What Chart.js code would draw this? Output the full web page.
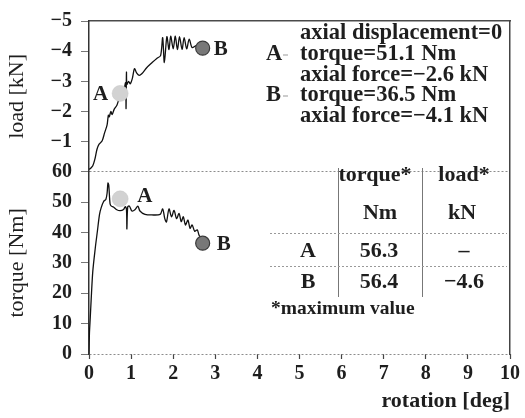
<!DOCTYPE html>
<html>
<head>
<meta charset="utf-8">
<script src="https://cdn.jsdelivr.net/npm/chart.js@4/dist/chart.umd.min.js"></script>
<style>
  html, body { margin: 0; padding: 0; background: #fff; }
  canvas { display: block; }
</style>
</head>
<body>
<canvas id="torsionChart" width="525" height="418"></canvas>
<script>
// Axial load [kN] against rotation [deg]
const loadRotation = [0, 0.04, 0.09, 0.14, 0.19, 0.24, 0.31, 0.37, 0.43, 0.46, 0.48, 0.52, 0.55, 0.60, 0.66, 0.72,
  0.78, 0.84, 0.87, 0.88, 0.89, 0.90, 0.94, 0.98, 1.03, 1.08, 1.13, 1.19, 1.26, 1.37, 1.49, 1.61, 1.70, 1.75,
  1.79, 1.85, 1.90, 1.94, 2.00, 2.05, 2.10, 2.15, 2.21, 2.26, 2.32, 2.38, 2.45, 2.55, 2.70];
const loadValues = [-0.08, -0.12, -0.2, -0.42, -0.75, -0.92, -1.02, -1.29, -1.56, -1.88, -1.82, -2.0, -1.9, -2.08, -2.2, -2.45,
  -2.62, -2.8, -2.95, -2.1, -3.3, -2.9, -3.0, -2.92, -3.1, -3.42, -3.28, -3.2, -3.26, -3.45, -3.61, -3.76, -3.85, -4.45,
  -3.62, -4.48, -4.05, -4.5, -4.08, -4.5, -4.05, -4.48, -4.06, -4.45, -4.08, -4.4, -4.12, -4.18, -4.1];

// Torque [Nm] against rotation [deg]
const torqueRotation = [0, 0.01, 0.03, 0.05, 0.09, 0.15, 0.20, 0.25, 0.29, 0.35, 0.40, 0.43, 0.45, 0.47, 0.50, 0.53,
  0.58, 0.66, 0.74, 0.82, 0.86, 0.89, 0.90, 0.92, 0.96, 1.02, 1.09, 1.16, 1.21, 1.33, 1.49, 1.69, 1.75, 1.80,
  1.84, 1.90, 1.96, 2.02, 2.08, 2.14, 2.19, 2.24, 2.29, 2.35, 2.40, 2.45, 2.51, 2.57, 2.61, 2.65, 2.70];
const torqueValues = [0, 6.7, 12, 17.5, 27.2, 35, 40.5, 46, 48.2, 50.3, 50.9, 53, 56.3, 55.5, 49.5, 48.7,
  48.4, 47.5, 47.2, 47.6, 48.5, 47.5, 41.2, 48.5, 48.7, 47.1, 47.5, 48.7, 47.1, 46, 45.8, 46, 47.8, 44.6,
  43.5, 47.8, 45.2, 47.3, 44.6, 46.3, 43.6, 45.2, 42.5, 44.1, 41.4, 42.5, 40.4, 40.9, 39.3, 38.2, 36.5];

// Marked states
const markNames = ['A', 'B'];
const markRotation = [0.74, 2.70];
const markTorque = [51.1, 36.5];
const markLoad = [-2.6, -4.1];

// Maximum value table
const tableRows = ['A', 'B'];
const maxTorque = ['56.3', '56.4'];
const maxLoad = ['\u2013', '\u22124.6'];

// Axis ticks
const rotationTicks = [0, 1, 2, 3, 4, 5, 6, 7, 8, 9, 10];
const loadTicks = [-5, -4, -3, -2, -1];
const torqueTicks = [0, 10, 20, 30, 40, 50, 60];

const serif = '"Liberation Serif", "Times New Roman", serif';
const ink = '#1e1e1e';

function points(xs, ys) {
  return xs.map((x, i) => ({ x: x, y: ys[i] }));
}

// One dataset per marker so each gets its own style and tag
function markerDataset(i, axisId, values, tagDx, tagDy) {
  const light = i === 0;
  return {
    data: [{ x: markRotation[i], y: values[i] }],
    yAxisID: axisId,
    showLine: false,
    pointRadius: light ? 8 : 7,
    pointBackgroundColor: light ? '#d2d2d2' : '#787878',
    pointBorderColor: light ? '#c4c4c4' : '#3a3a3a',
    pointBorderWidth: light ? 0.5 : 1.2,
    tag: markNames[i],
    tagDx: tagDx,
    tagDy: tagDy
  };
}

function curveDataset(xs, ys, axisId) {
  return {
    data: points(xs, ys),
    yAxisID: axisId,
    borderColor: '#111',
    borderWidth: 1.3,
    pointRadius: 0,
    tension: 0.3
  };
}

function tickList(values) {
  return s => { s.ticks = values.map(v => ({ value: v })); };
}

const tickFont = { family: serif, size: 20, weight: 'bold' };
const titleFont = { family: serif, size: 22 };

// Draw A/B tags next to markers
const tagPlugin = {
  id: 'tags',
  afterDatasetsDraw(chart) {
    const ctx = chart.ctx;
    ctx.save();
    ctx.fillStyle = ink;
    ctx.font = 'bold 21px ' + serif;
    ctx.textBaseline = 'middle';
    chart.data.datasets.forEach((ds, i) => {
      if (!ds.tag) return;
      const pt = chart.getDatasetMeta(i).data[0];
      ctx.textAlign = ds.tagDx < 0 ? 'right' : 'left';
      ctx.fillText(ds.tag, pt.x + ds.tagDx, pt.y + ds.tagDy);
    });
    ctx.restore();
  }
};

// Notes in the upper panel and the table in the lower one
const notesPlugin = {
  id: 'notes',
  afterDraw(chart) {
    const ctx = chart.ctx;
    ctx.save();
    ctx.fillStyle = ink;
    ctx.textBaseline = 'middle';
    ctx.font = 'bold 22.5px ' + serif;
    ctx.textAlign = 'left';
    ctx.fillText('axial displacement=0', 300, 33);
    ctx.fillText('A', 266, 54);
    ctx.fillText('torque=' + markTorque[0] + ' Nm', 300, 54);
    ctx.fillText('axial force=' + String(markLoad[0]).replace('-', '\u2212') + ' kN', 300, 75);
    ctx.fillText('B', 266, 95);
    ctx.fillText('torque=' + markTorque[1] + ' Nm', 300, 95);
    ctx.fillText('axial force=' + String(markLoad[1]).replace('-', '\u2212') + ' kN', 300, 116);

    ctx.strokeStyle = '#999';
    ctx.lineWidth = 1;
    ctx.beginPath();
    ctx.moveTo(283, 55); ctx.lineTo(288, 55);
    ctx.moveTo(283, 96); ctx.lineTo(288, 96);
    ctx.stroke();

    // table frame
    ctx.strokeStyle = '#777';
    ctx.beginPath();
    ctx.moveTo(338.5, 168); ctx.lineTo(338.5, 297);
    ctx.moveTo(422.5, 168); ctx.lineTo(422.5, 297);
    ctx.stroke();
    ctx.setLineDash([2, 2]);
    ctx.strokeStyle = '#999';
    ctx.beginPath();
    ctx.moveTo(270, 233.5); ctx.lineTo(507, 233.5);
    ctx.moveTo(270, 266.5); ctx.lineTo(507, 266.5);
    ctx.stroke();
    ctx.setLineDash([]);

    ctx.font = 'bold 22px ' + serif;
    ctx.textAlign = 'center';
    ctx.fillText('torque*', 375, 175);
    ctx.fillText('load*', 464, 175);
    ctx.fillText('Nm', 380, 213);
    ctx.fillText('kN', 462, 213);
    const rowY = [251, 282];
    tableRows.forEach((name, i) => {
      ctx.fillText(name, 308, rowY[i]);
      ctx.fillText(maxTorque[i], 379, rowY[i]);
      ctx.fillText(maxLoad[i], 464, rowY[i]);
    });
    ctx.textAlign = 'left';
    ctx.font = 'bold 19.5px ' + serif;
    ctx.fillText('*maximum value', 271, 309);
    ctx.restore();
  }
};

const chart = new Chart(document.getElementById('torsionChart'), {
  type: 'line',
  data: {
    datasets: [
      markerDataset(0, 'yL', markLoad, -12, 1),
      markerDataset(1, 'yL', markLoad, 11, 1),
      markerDataset(0, 'yT', markTorque, 17, -2),
      markerDataset(1, 'yT', markTorque, 14, 1),
      curveDataset(loadRotation, loadValues, 'yL'),
      curveDataset(torqueRotation, torqueValues, 'yT')
    ]
  },
  options: {
    responsive: false,
    animation: false,
    layout: { padding: { left: 0, right: 15, top: 14, bottom: 0 } },
    plugins: { legend: { display: false }, tooltip: { enabled: false } },
    scales: {
      x: {
        type: 'linear',
        position: 'bottom',
        min: 0,
        max: 10,
        afterBuildTicks: tickList(rotationTicks),
        afterFit: s => { s.height = 64; },
        grid: { drawOnChartArea: false, tickLength: 5, tickColor: '#444', tickWidth: 1.2 },
        border: { display: false },
        ticks: { color: ink, font: tickFont, padding: 3, maxRotation: 0, autoSkip: false },
        title: {
          display: true,
          text: 'rotation [deg]',
          align: 'end',
          color: ink,
          font: { family: serif, size: 22, weight: 'bold' },
          padding: { top: 0, bottom: 3 }
        }
      },
      xTop: {
        type: 'linear',
        position: 'top',
        min: 0,
        max: 10,
        afterFit: s => { s.height = 0; },
        ticks: { display: false },
        grid: { display: false },
        border: { color: '#4a4a4a', width: 1.5 }
      },
      yT: {
        type: 'linear',
        position: 'left',
        stack: 'panels',
        stackWeight: 186,
        weight: 1,
        min: 0,
        max: 60,
        afterBuildTicks: tickList(torqueTicks),
        afterFit: s => { s.width = 89; },
        grid: {
          color: c => (c.tick && (c.tick.value === 0 || c.tick.value === 60)) ? '#8c8c8c' : 'rgba(0,0,0,0)',
          lineWidth: 1,
          tickColor: '#777',
          tickLength: 8
        },
        border: { color: '#333', width: 1.5, dash: [2, 2] },
        ticks: { color: ink, font: tickFont, padding: 9, autoSkip: false },
        title: { display: true, text: 'torque [Nm]', color: ink, font: titleFont, padding: { top: 4, bottom: 0 } }
      },
      yL: {
        type: 'linear',
        position: 'left',
        stack: 'panels',
        stackWeight: 154,
        weight: 2,
        min: -5,
        max: 0,
        reverse: true,
        afterBuildTicks: tickList(loadTicks),
        afterFit: s => { s.width = 89; },
        grid: { drawOnChartArea: false, tickColor: '#777', tickLength: 8 },
        border: { color: '#333', width: 1.5 },
        ticks: {
          color: ink,
          font: tickFont,
          padding: 9,
          autoSkip: false,
          callback: v => String(v).replace('-', '\u2212')
        },
        title: { display: true, text: 'load [kN]', color: ink, font: titleFont, padding: { top: 4, bottom: 0 } }
      },
      yR: {
        type: 'linear',
        axis: 'y',
        position: 'right',
        min: 0,
        max: 1,
        afterFit: s => { s.width = 0; },
        ticks: { display: false },
        grid: { display: false },
        border: { color: '#444', width: 1.5 }
      }
    }
  },
  plugins: [tagPlugin, notesPlugin]
});
</script>
</body>
</html>
